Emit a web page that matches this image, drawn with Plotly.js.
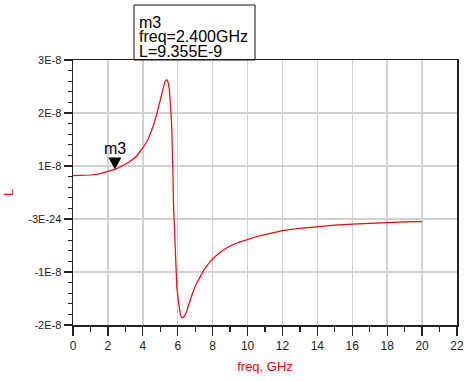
<!DOCTYPE html>
<html>
<head>
<meta charset="utf-8">
<script src="https://cdn.plot.ly/plotly-3.0.1.min.js"></script>
<style>
  html, body { margin: 0; padding: 0; background: #ffffff; }
  #chart { width: 465px; height: 381px; }
</style>
</head>
<body>
<div id="chart"></div>
<script>
// Inductance L versus frequency (GHz); L values given in nH
const freqGHz = [0, 0.5, 1, 1.5, 2, 2.4, 2.8, 3.2, 3.6, 4.0, 4.3, 4.6, 4.8, 5.0, 5.15,
  5.27, 5.37, 5.45, 5.52, 5.56, 5.61, 5.66, 5.71, 5.73, 5.75, 5.8, 5.85, 5.9, 5.95,
  6.03, 6.09, 6.15, 6.21, 6.28, 6.36, 6.47, 6.58, 6.7, 6.85, 7.0, 7.25, 7.5, 7.75,
  8.0, 8.5, 9.0, 9.5, 10, 10.5, 11, 11.5, 12, 13, 14, 15, 16, 17, 18, 19, 20];
const inductanceNH = [8.2, 8.22, 8.3, 8.5, 8.9, 9.355, 10.0, 10.7, 11.7, 13.4, 15.0, 17.6, 19.8, 22.4, 24.6,
  26.0, 26.3, 25.8, 24.4, 23.0, 20.3, 17.0, 12.0, 8.0, 3.5, -1.0, -5.5, -9.5, -12.9,
  -15.3, -17.1, -18.0, -18.5, -18.65, -18.4, -17.8, -16.7, -15.3, -14.0, -12.7, -11.0, -9.6, -8.5,
  -7.5, -6.1, -5.1, -4.4, -3.85, -3.35, -2.95, -2.55, -2.2, -1.75, -1.42, -1.17, -0.97, -0.8, -0.66, -0.56, -0.5];

// Marker m3
const markerName = 'm3';
const markerFreq = 2.4;      // GHz
const markerL = 9.355e-9;    // H

// Axis ticks
const xTickVals = [0, 2, 4, 6, 8, 10, 12, 14, 16, 18, 20, 22];
const yTickVals = [-2e-8, -1e-8, 0, 1e-8, 2e-8, 3e-8];
const yTickText = ['-2E-8', '-1E-8', '-3E-24', '1E-8', '2E-8', '3E-8'];

const inductanceH = inductanceNH.map(v => v * 1e-9);

const yMinorVals = [];
for (let k = -20; k <= 30; k += 2) {
  if (k % 10 !== 0) yMinorVals.push(k * 1e-9);
}

const axisColor = '#222222';
const gridColor = '#d2d2d2';
const fontFamily = '"Liberation Sans", Arial, Helvetica, sans-serif';

const trace = {
  x: freqGHz,
  y: inductanceH,
  type: 'scatter',
  mode: 'lines',
  line: { color: '#ff0000', width: 1.2 },
  hoverinfo: 'skip'
};

const fmtFreq = markerFreq.toFixed(3) + 'GHz';
const fmtL = markerL.toExponential(3).toUpperCase();

// readout lines inside the marker box
const readoutLines = [markerName, 'freq=' + fmtFreq, 'L=' + fmtL];
const readoutY = [1.141, 1.087, 1.032];

const layout = {
  width: 465,
  height: 381,
  margin: { l: 73, r: 8, t: 60, b: 56 },
  paper_bgcolor: '#ffffff',
  plot_bgcolor: '#ffffff',
  showlegend: false,
  font: { family: fontFamily, color: axisColor },
  xaxis: {
    range: [0, 22],
    tickmode: 'array',
    tickvals: xTickVals,
    ticks: 'outside',
    ticklen: 9,
    tickwidth: 1.3,
    tickcolor: axisColor,
    tickfont: { size: 12, color: axisColor },
    showline: true,
    linecolor: axisColor,
    linewidth: 1.5,
    mirror: true,
    showgrid: true,
    gridcolor: gridColor,
    gridwidth: 1.5,
    zeroline: false,
    minor: { tickmode: 'linear', tick0: 0, dtick: 1, ticks: 'outside', ticklen: 5, tickwidth: 1.3, tickcolor: axisColor, showgrid: false },
    title: { text: 'freq, GHz', font: { size: 13, color: '#ff0000' }, standoff: 10 }
  },
  yaxis: {
    range: [-2e-8, 3e-8],
    tickmode: 'array',
    tickvals: yTickVals,
    ticktext: yTickText,
    ticks: 'outside',
    ticklen: 8,
    tickwidth: 1.3,
    tickcolor: axisColor,
    tickfont: { size: 11, color: axisColor },
    showline: true,
    linecolor: axisColor,
    linewidth: 1.5,
    mirror: true,
    showgrid: true,
    gridcolor: gridColor,
    gridwidth: 1.5,
    zeroline: false,
    minor: { tickmode: 'array', tickvals: yMinorVals, ticks: 'outside', ticklen: 4, tickwidth: 1.3, tickcolor: axisColor, showgrid: false },
    title: { text: 'L', font: { size: 13, color: '#ff0000' }, standoff: 11 }
  },
  shapes: [
    // marker readout box
    {
      type: 'rect', xref: 'paper', yref: 'paper',
      x0: 0.1589, x1: 0.474, y0: 1.0, y1: 1.2075,
      line: { color: '#111111', width: 1 }, fillcolor: 'rgba(0,0,0,0)', layer: 'above'
    },
    // downward triangle whose tip sits on the marker point
    {
      type: 'path', xref: 'x', yref: 'y',
      xsizemode: 'pixel', ysizemode: 'pixel',
      xanchor: markerFreq, yanchor: markerL,
      path: 'M-6.5,12 L6.5,12 L0,0 Z',
      fillcolor: '#000000', line: { width: 0 }, layer: 'above'
    }
  ],
  annotations: [
    {
      x: markerFreq, y: markerL, xref: 'x', yref: 'y',
      text: markerName, showarrow: false, xanchor: 'center', yanchor: 'bottom', yshift: 10,
      font: { size: 16, color: '#000000' }
    }
  ].concat(readoutLines.map((txt, i) => ({
    x: 0.1667, y: readoutY[i], xref: 'paper', yref: 'paper', xanchor: 'left', yanchor: 'middle',
    text: txt, showarrow: false, font: { size: 16, color: '#000000' }
  })))
};

Plotly.newPlot('chart', [trace], layout, { displayModeBar: false, staticPlot: true });
</script>
</body>
</html>
